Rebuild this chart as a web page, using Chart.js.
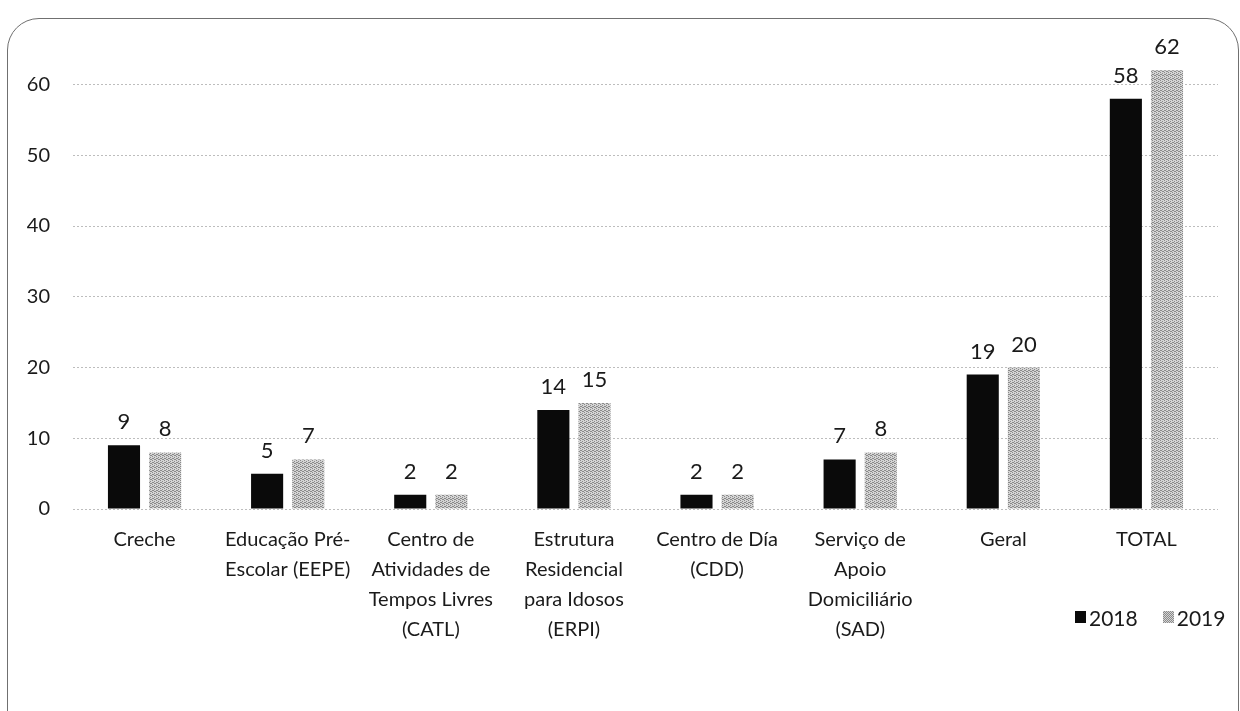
<!DOCTYPE html>
<html>
<head>
<meta charset="utf-8">
<script src="https://cdn.jsdelivr.net/npm/chart.js@4.4.0/dist/chart.umd.min.js"></script>
<style>
    html, body { margin: 0; padding: 0; background: #fff; }
    #wrap { position: relative; width: 1240px; height: 711px; overflow: hidden; }
    #frame {
        position: absolute; left: 7px; top: 18px; width: 1232px; height: 740px;
        border: 1.5px solid #707070; border-radius: 32px; box-sizing: border-box;
    }
    #legend {
        position: absolute; left: 1075px; top: 604px; height: 26px;
        font-family: Lato, sans-serif; font-size: 21px; color: #1a1a1a;
        display: flex; align-items: center;
    }
    #legend span.box { display: inline-block; width: 11px; height: 12px; margin-right: 3px; }
    #legend span.item { display: flex; align-items: center; margin-right: 25px; }
    canvas { position: absolute; left: 0; top: 0; }
</style>
</head>
<body>
<div id="wrap">
    <div id="frame"></div>
    <canvas id="chart" width="1240" height="711"></canvas>
    <div id="legend"></div>
</div>
<script>
// 데이터
const categories = [
    'Creche',
    ['Educação Pré-', 'Escolar (EEPE)'],
    ['Centro de', 'Atividades de', 'Tempos Livres', '(CATL)'],
    ['Estrutura', 'Residencial', 'para Idosos', '(ERPI)'],
    ['Centro de Día', '(CDD)'],
    ['Serviço de', 'Apoio', 'Domiciliário', '(SAD)'],
    'Geral',
    'TOTAL'
];
const series2018 = [9, 5, 2, 14, 2, 7, 19, 58];
const series2019 = [8, 7, 2, 15, 2, 8, 20, 62];
const yTicks = [0, 10, 20, 30, 40, 50, 60];

// 회색 점무늬 패턴
function makePattern() {
    const c = document.createElement('canvas');
    c.width = 4; c.height = 4;
    const g = c.getContext('2d');
    g.fillStyle = '#d4d4d4';
    g.fillRect(0, 0, 4, 4);
    g.fillStyle = '#8a8a8a';
    [[0,0],[2,1],[1,2],[3,3],[2,3],[0,2]].forEach(([x, y]) => g.fillRect(x, y, 1, 1));
    return g.createPattern(c, 'repeat');
}
const grayPattern = makePattern();

// 막대 위 값 표시
const valueLabels = {
    id: 'valueLabels',
    afterDatasetsDraw(chart) {
        const ctx = chart.ctx;
        ctx.save();
        ctx.font = '22px Lato, sans-serif';
        ctx.fillStyle = '#1a1a1a';
        ctx.textAlign = 'center';
        ctx.textBaseline = 'alphabetic';
        chart.data.datasets.forEach((ds, i) => {
            chart.getDatasetMeta(i).data.forEach((bar, j) => {
                ctx.fillText(ds.data[j], bar.x, bar.y - 16);
            });
        });
        ctx.restore();
    }
};

const ctx = document.getElementById('chart').getContext('2d');
const chart = new Chart(ctx, {
    type: 'bar',
    data: {
        labels: categories,
        datasets: [
            { label: '2018', data: series2018, backgroundColor: '#0a0a0a' },
            { label: '2019', data: series2019, backgroundColor: grayPattern }
        ]
    },
    options: {
        responsive: false,
        animation: false,
        layout: { padding: { top: 12, right: 22, bottom: 0, left: 0 } },
        datasets: { bar: { categoryPercentage: 0.575, barPercentage: 0.78 } },
        plugins: {
            legend: { display: false },
            tooltip: { enabled: false }
        },
        scales: {
            x: {
                grid: { display: false },
                border: { display: false },
                ticks: {
                    color: '#1a1a1a',
                    font: { family: 'Lato', size: 20, lineHeight: 1.5 },
                    padding: 8,
                    maxRotation: 0,
                    autoSkip: false
                },
                afterFit(scale) { scale.height = 202; }
            },
            y: {
                min: 0,
                max: 67,
                afterBuildTicks(scale) { scale.ticks = yTicks.map(v => ({ value: v })); },
                grid: { color: '#bdbdbd', drawTicks: false },
                border: { display: false, dash: [2, 2] },
                ticks: {
                    color: '#1a1a1a',
                    font: { family: 'Lato', size: 20 },
                    padding: 23
                },
                afterFit(scale) { scale.width = 73; }
            }
        }
    },
    plugins: [valueLabels]
});

// 범례
const legend = document.getElementById('legend');
chart.data.datasets.forEach((ds, i) => {
    const item = document.createElement('span');
    item.className = 'item';
    const box = document.createElement('span');
    box.className = 'box';
    box.style.background = i === 0 ? '#0a0a0a' : 'repeating-conic-gradient(#8a8a8a 0 25%, #d4d4d4 0 50%) 0 0 / 2px 2px';
    item.appendChild(box);
    item.appendChild(document.createTextNode(ds.label));
    legend.appendChild(item);
});
</script>
</body>
</html>
